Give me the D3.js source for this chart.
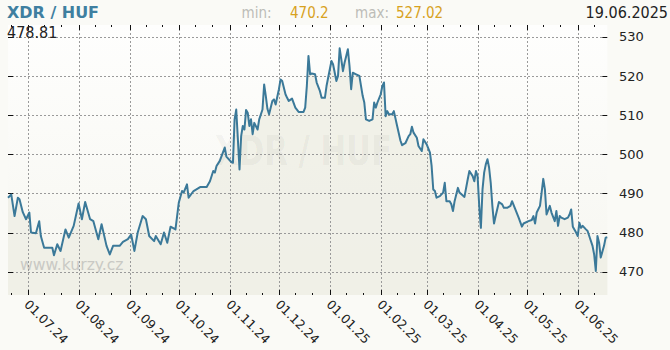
<!DOCTYPE html>
<html><head><meta charset="utf-8">
<script src="https://cdn.jsdelivr.net/npm/d3@7"></script>
<style>html,body{margin:0;padding:0;background:#fafaf6;} svg{display:block}</style>
</head><body><svg id="c" width="670" height="350"></svg>
<script>
const dates = [
"2024-06-19","2024-06-21","2024-06-23","2024-06-25","2024-06-26","2024-06-28","2024-06-30","2024-07-02","2024-07-03","2024-07-06",
"2024-07-08","2024-07-09","2024-07-11","2024-07-16","2024-07-17","2024-07-19","2024-07-21","2024-07-24","2024-07-26","2024-07-29",
"2024-08-01","2024-08-03","2024-08-05","2024-08-08","2024-08-10","2024-08-13","2024-08-15","2024-08-18","2024-08-20","2024-08-22",
"2024-08-26","2024-08-28","2024-08-31","2024-09-02","2024-09-04","2024-09-06","2024-09-09","2024-09-11","2024-09-13","2024-09-16",
"2024-09-17","2024-09-20","2024-09-22","2024-09-24","2024-09-26","2024-09-29","2024-10-01","2024-10-03","2024-10-04","2024-10-06",
"2024-10-07","2024-10-10","2024-10-14","2024-10-18","2024-10-20","2024-10-22","2024-10-23","2024-10-24","2024-10-26","2024-10-29",
"2024-10-30","2024-11-02","2024-11-03","2024-11-04","2024-11-05","2024-11-06","2024-11-07","2024-11-08","2024-11-09","2024-11-10",
"2024-11-11","2024-11-12","2024-11-13","2024-11-14","2024-11-15","2024-11-16","2024-11-18","2024-11-19","2024-11-21","2024-11-22",
"2024-11-23","2024-11-24","2024-11-25","2024-11-27","2024-11-28","2024-11-29","2024-12-01","2024-12-02","2024-12-03","2024-12-05",
"2024-12-06","2024-12-07","2024-12-09","2024-12-11","2024-12-13","2024-12-16","2024-12-17","2024-12-18","2024-12-19","2024-12-20",
"2024-12-21","2024-12-23","2024-12-24","2024-12-26","2024-12-27","2024-12-29","2024-12-30","2025-01-01","2025-01-02","2025-01-03",
"2025-01-04","2025-01-05","2025-01-06","2025-01-07","2025-01-08","2025-01-09","2025-01-10","2025-01-11","2025-01-12","2025-01-13",
"2025-01-14","2025-01-15","2025-01-17","2025-01-19","2025-01-21","2025-01-22","2025-01-23","2025-01-25","2025-01-27","2025-01-28",
"2025-01-29","2025-01-30","2025-02-01","2025-02-02","2025-02-03","2025-02-04","2025-02-05","2025-02-06","2025-02-08","2025-02-09",
"2025-02-11","2025-02-13","2025-02-14","2025-02-16","2025-02-18","2025-02-19","2025-02-20","2025-02-21","2025-02-23","2025-02-24",
"2025-02-26","2025-02-27","2025-03-01","2025-03-03","2025-03-04","2025-03-05","2025-03-06","2025-03-07","2025-03-09","2025-03-11",
"2025-03-12","2025-03-13","2025-03-15","2025-03-16","2025-03-17","2025-03-18","2025-03-20","2025-03-21","2025-03-24","2025-03-26",
"2025-03-27","2025-03-29","2025-03-30","2025-03-31","2025-04-01","2025-04-02","2025-04-03","2025-04-04","2025-04-05","2025-04-06",
"2025-04-07","2025-04-08","2025-04-09","2025-04-10","2025-04-11","2025-04-12","2025-04-14","2025-04-16","2025-04-17","2025-04-19",
"2025-04-21","2025-04-22","2025-04-24","2025-04-26","2025-04-28","2025-04-29","2025-05-02","2025-05-04","2025-05-05","2025-05-06",
"2025-05-07","2025-05-09","2025-05-10","2025-05-11","2025-05-12","2025-05-13","2025-05-15","2025-05-16","2025-05-18","2025-05-19",
"2025-05-20","2025-05-21","2025-05-22","2025-05-24","2025-05-26","2025-05-27","2025-05-28","2025-05-29","2025-05-31","2025-06-01",
"2025-06-02","2025-06-03","2025-06-04","2025-06-06","2025-06-07","2025-06-08","2025-06-10","2025-06-11","2025-06-12","2025-06-13",
"2025-06-14","2025-06-15","2025-06-17","2025-06-18","2025-06-19"
];
const values = [
488.9,489.7,484.2,488.9,488.5,485.2,483.4,485.1,480.0,479.8,
482.9,479.1,476.1,476.1,474.2,477.0,475.3,480.8,478.7,481.7,
487.4,483.4,487.8,483.4,482.9,478.3,482.1,476.6,474.4,476.6,
476.6,477.6,478.3,479.5,475.3,480.0,484.2,483.4,479.1,477.8,
479.1,477.0,480.0,477.4,481.5,480.8,487.6,490.6,490.2,492.3,
488.9,490.6,491.6,491.6,493.1,495.7,495.3,497.0,498.3,501.7,
499.4,498.0,497.8,508.9,511.4,503.8,496.1,504.6,507.2,506.3,
511.3,510.6,507.2,508.9,505.1,508.0,506.3,508.9,511.4,517.8,
514.9,511.6,510.2,513.6,514.0,512.7,516.6,519.1,518.7,515.3,
514.4,513.6,514.2,511.9,510.8,510.8,511.9,517.4,525.1,520.4,
520.6,520.4,518.3,516.1,514.4,514.4,517.4,521.7,523.8,522.9,
520.8,518.7,520.0,527.02,524.2,521.2,523.4,525.1,526.8,522.5,
516.6,520.8,520.4,520.0,514.9,513.2,508.9,508.5,508.9,513.2,
511.9,513.2,515.3,517.4,518.3,509.7,511.0,510.2,510.2,511.0,
507.2,503.5,502.3,502.8,504.6,505.1,507.0,505.5,504.2,502.1,
500.8,503.8,502.5,500.4,497.0,491.0,490.6,488.9,489.3,490.2,
492.7,488.0,488.0,487.2,485.5,488.0,491.4,490.2,489.1,493.6,
495.7,494.4,493.1,495.7,494.4,486.8,481.2,491.0,495.3,497.4,
498.7,496.6,492.7,486.8,482.3,484.2,487.8,487.2,486.3,486.3,
486.8,488.0,485.9,483.8,481.5,482.3,482.9,483.2,484.2,482.3,
485.1,486.8,490.2,493.7,491.0,484.6,486.8,485.1,482.9,485.5,
481.7,484.2,483.8,483.4,483.8,484.6,485.9,481.5,480.0,479.1,
482.5,481.2,481.7,480.8,480.4,479.1,476.6,474.4,470.2,479.1,
477.4,473.6,476.6,478.7,478.81
];
const yTicks = [470, 480, 490, 500, 510, 520, 530];
const monthTicks = ["2024-07-01","2024-08-01","2024-09-01","2024-10-01","2024-11-01","2024-12-01",
                    "2025-01-01","2025-02-01","2025-03-01","2025-04-01","2025-05-01","2025-06-01"];
const titleText = "XDR / HUF";
const lastValueText = "478.81";
const minText = "470.2";
const maxText = "527.02";
const dateText = "19.06.2025";
const siteText = "www.kurzy.cz";

const parse = d3.utcParse("%Y-%m-%d");
const data = dates.map((d, i) => ({ date: parse(d), value: values[i] }));

const L = 8, R = 607.3, T = 25, B = 295;
const x = d3.scaleUtc().domain([parse("2024-06-19"), parse("2025-06-19")]).range([L, R]);
const y = d3.scaleLinear().domain([470, 530]).range([271.7, 36.7]);

const svg = d3.select("#c");
svg.append("rect").attr("width", 670).attr("height", 350).attr("fill", "#fafaf6");

const defs = svg.append("defs");
const g1 = defs.append("linearGradient").attr("id", "bg").attr("x1", 0).attr("y1", 0).attr("x2", 0).attr("y2", 1);
g1.append("stop").attr("offset", "0%").attr("stop-color", "#fefefd");
g1.append("stop").attr("offset", "100%").attr("stop-color", "#f6f6f0");

svg.append("rect").attr("x", L).attr("y", T).attr("width", R - L).attr("height", B - T).attr("fill", "url(#bg)");

// area
const area = d3.area().x(d => x(d.date)).y0(B).y1(d => y(d.value));
svg.append("path").datum(data).attr("d", area).attr("fill", "#efefe5").attr("fill-opacity", 0.85);

// watermark
svg.append("text").attr("x", 215).attr("y", 165).text(titleText)
  .attr("font-family", "DejaVu Sans").attr("font-weight", "bold").attr("font-size", 41)
  .attr("textLength", 177).attr("lengthAdjust", "spacingAndGlyphs")
  .attr("fill", "#000").attr("fill-opacity", 0.055);
svg.append("text").attr("x", 20).attr("y", 269.5).text(siteText)
  .attr("font-family", "DejaVu Sans").attr("font-size", 15.6).attr("fill", "#c9c9c4");

// grid
const grid = svg.append("g").attr("stroke", "#9a9a9a").attr("stroke-dasharray", "2,2").attr("stroke-width", 1);
yTicks.forEach(v => {
  const yy = Math.round(y(v)) + 0.5;
  grid.append("line").attr("x1", L).attr("x2", R).attr("y1", yy).attr("y2", yy);
});
monthTicks.forEach(m => {
  const xx = Math.round(x(parse(m))) + 0.5;
  grid.append("line").attr("x1", xx).attr("x2", xx).attr("y1", T).attr("y2", B);
});

// ticks
const tk = svg.append("g").attr("stroke", "#111").attr("stroke-width", 1);
yTicks.forEach(v => {
  const yy = Math.round(y(v)) + 0.5;
  tk.append("line").attr("x1", L).attr("x2", L + 5).attr("y1", yy).attr("y2", yy);
  tk.append("line").attr("x1", R - 5).attr("x2", R).attr("y1", yy).attr("y2", yy);
});
const minorDays = d3.utcDay.range(x.domain()[0], x.domain()[1]).filter(d => [1, 11, 21].includes(d.getUTCDate()));
minorDays.forEach(d => {
  const xx = Math.round(x(d)) + 0.5;
  const major = d.getUTCDate() === 1;
  const len = major ? 5 : 2;
  tk.append("line").attr("x1", xx).attr("x2", xx).attr("y1", T).attr("y2", T + len);
  tk.append("line").attr("x1", xx).attr("x2", xx).attr("y1", B - len).attr("y2", B);
});

// line
const line = d3.line().x(d => x(d.date)).y(d => y(d.value));
svg.append("path").datum(data).attr("d", line).attr("fill", "none")
  .attr("stroke", "#3b7999").attr("stroke-width", 2).attr("stroke-linejoin", "round");

// right axis labels
svg.append("g").selectAll("text").data(yTicks).join("text")
  .attr("x", 619).attr("y", d => y(d) + 4.7).text(d => d)
  .attr("font-family", "DejaVu Sans").attr("font-size", 13).attr("fill", "#222");

// x labels
const fmt = d3.utcFormat("%d.%m.%y");
svg.append("g").selectAll("text").data(monthTicks.map(parse)).join("text")
  .attr("transform", d => `translate(${x(d) - 1},${302}) rotate(45)`)
  .attr("dominant-baseline", "central")
  .text(d => fmt(d))
  .attr("font-family", "DejaVu Sans").attr("font-size", 12.5).attr("fill", "#222");

// header
svg.append("text").attr("x", 7).attr("y", 18.3).text(titleText)
  .attr("font-family", "DejaVu Sans").attr("font-weight", "bold").attr("font-size", 16.5)
  .attr("textLength", 92).attr("lengthAdjust", "spacingAndGlyphs").attr("fill", "#3f7fa0");
const hdr = svg.append("g").attr("font-family", "DejaVu Sans Condensed, DejaVu Sans").attr("font-size", 15);
hdr.append("text").attr("x", 241.5).attr("y", 18.3).text("min:").attr("fill", "#bdbdb8");
hdr.append("text").attr("x", 290).attr("y", 18.3).text(minText).attr("fill", "#d8a21e");
hdr.append("text").attr("x", 355).attr("y", 18.3).text("max:").attr("fill", "#bdbdb8");
hdr.append("text").attr("x", 396).attr("y", 18.3).text(maxText).attr("fill", "#d8a21e");
svg.append("text").attr("x", 668).attr("y", 18.3).attr("text-anchor", "end").text(dateText)
  .attr("font-family", "DejaVu Sans Condensed, DejaVu Sans").attr("font-size", 16).attr("fill", "#222");
svg.append("text").attr("x", 7).attr("y", 38.3).text(lastValueText)
  .attr("font-family", "DejaVu Sans Condensed, DejaVu Sans").attr("font-size", 16).attr("fill", "#222");
</script>
</body></html>
